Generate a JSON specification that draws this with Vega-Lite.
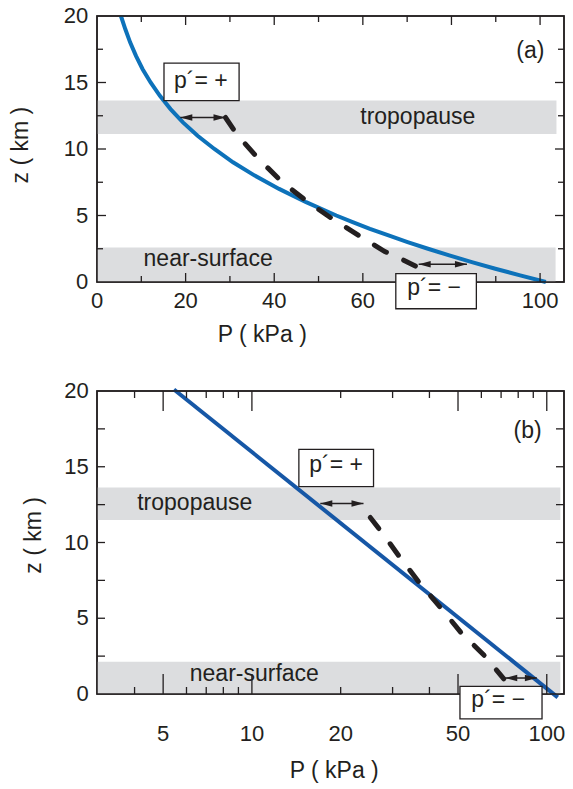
{
  "$schema": "https://vega.github.io/schema/vega-lite/v6.json",
  "background": "white",
  "padding": {"left": 9, "top": 4, "right": 0, "bottom": 0},
  "bounds": "flush",
  "spacing": 109,
  "datasets": {
    "bands_a": [
      {"x1": 0, "x2": 103.7, "y1": 11.13, "y2": 13.64},
      {"x1": 0, "x2": 103.5, "y1": 0, "y2": 2.59}
    ],
    "frame_a": [{"x1": 0, "x2": 105.4, "y1": 0, "y2": 20}],
    "tx_a": [
      {"v": 10, "m": "minor", "at": 0}, {"v": 20, "m": "major", "at": 0}, {"v": 30, "m": "minor", "at": 0},
      {"v": 40, "m": "major", "at": 0}, {"v": 50, "m": "minor", "at": 0}, {"v": 60, "m": "major", "at": 0},
      {"v": 70, "m": "minor", "at": 0}, {"v": 80, "m": "major", "at": 0}, {"v": 90, "m": "minor", "at": 0},
      {"v": 100, "m": "major", "at": 0},
      {"v": 10, "m": "minor", "at": 20}, {"v": 20, "m": "major", "at": 20}, {"v": 30, "m": "minor", "at": 20},
      {"v": 40, "m": "major", "at": 20}, {"v": 50, "m": "minor", "at": 20}, {"v": 60, "m": "major", "at": 20},
      {"v": 70, "m": "minor", "at": 20}, {"v": 80, "m": "major", "at": 20}, {"v": 90, "m": "minor", "at": 20},
      {"v": 100, "m": "major", "at": 20}
    ],
    "ty_a": [
      {"v": 2.5, "m": "minor", "at": 0}, {"v": 5, "m": "major", "at": 0}, {"v": 7.5, "m": "minor", "at": 0},
      {"v": 10, "m": "major", "at": 0}, {"v": 12.5, "m": "minor", "at": 0}, {"v": 15, "m": "major", "at": 0},
      {"v": 17.5, "m": "minor", "at": 0},
      {"v": 2.5, "m": "minor", "at": 105.4}, {"v": 5, "m": "major", "at": 105.4}, {"v": 7.5, "m": "minor", "at": 105.4},
      {"v": 10, "m": "major", "at": 105.4}, {"v": 12.5, "m": "minor", "at": 105.4}, {"v": 15, "m": "major", "at": 105.4},
      {"v": 17.5, "m": "minor", "at": 105.4}
    ],
    "xl_a": [
      {"v": 0, "at": 0, "t": "0"}, {"v": 20, "at": 0, "t": "20"}, {"v": 40, "at": 0, "t": "40"},
      {"v": 60, "at": 0, "t": "60"}, {"v": 100, "at": 0, "t": "100"}
    ],
    "yl_a": [
      {"v": 0, "at": 0, "t": "0"}, {"v": 5, "at": 0, "t": "5"}, {"v": 10, "at": 0, "t": "10"},
      {"v": 15, "at": 0, "t": "15"}, {"v": 20, "at": 0, "t": "20"}
    ],
    "xt_a": [{"P": 37.3, "z": -4.51, "t": "P ( kPa )"}],
    "yt_a": [{"P": -15.6, "z": 10.29, "t": "z ( km )"}],
    "curve_a": [
      {"P": 101.3, "z": 0}, {"P": 95.5, "z": 0.5}, {"P": 89.9, "z": 1}, {"P": 84.6, "z": 1.5},
      {"P": 79.5, "z": 2}, {"P": 74.7, "z": 2.5}, {"P": 70.1, "z": 3}, {"P": 65.8, "z": 3.5},
      {"P": 61.6, "z": 4}, {"P": 57.7, "z": 4.5}, {"P": 54.0, "z": 5}, {"P": 47.2, "z": 6},
      {"P": 41.1, "z": 7}, {"P": 35.6, "z": 8}, {"P": 30.7, "z": 9}, {"P": 26.5, "z": 10},
      {"P": 22.7, "z": 11}, {"P": 19.4, "z": 12}, {"P": 16.6, "z": 13}, {"P": 14.2, "z": 14},
      {"P": 12.1, "z": 15}, {"P": 10.3, "z": 16}, {"P": 8.8, "z": 17}, {"P": 7.5, "z": 18},
      {"P": 6.4, "z": 19}, {"P": 5.4, "z": 20}
    ],
    "dash_a": [
      {"P": 29.0, "z": 12.37}, {"P": 31.66, "z": 11.06}, {"P": 36.36, "z": 9.3}, {"P": 41.71, "z": 7.54},
      {"P": 47.49, "z": 6.03}, {"P": 53.26, "z": 4.72}, {"P": 59.44, "z": 3.42}, {"P": 64.96, "z": 2.29},
      {"P": 68.51, "z": 1.76}, {"P": 71.85, "z": 1.2}
    ],
    "arrows_a": [
      {"x1": 18.8, "x2": 29.0, "z": 12.37},
      {"x1": 72.6, "x2": 83.5, "z": 1.33}
    ],
    "heads_a": [
      {"P": 18.8, "z": 12.37, "d": "L"}, {"P": 29.0, "z": 12.37, "d": "R"},
      {"P": 72.6, "z": 1.33, "d": "L"}, {"P": 83.5, "z": 1.33, "d": "R"}
    ],
    "boxes_a": [
      {"x1": 15.12, "x2": 32.07, "y1": 13.64, "y2": 16.46},
      {"x1": 67.44, "x2": 85.62, "y1": -2.01, "y2": 0.63}
    ],
    "texts_a": [
      {"P": 72.4, "z": 11.88, "t": "tropopause"},
      {"P": 25.08, "z": 1.21, "t": "near-surface"},
      {"P": 97.8, "z": 16.83, "t": "(a)"},
      {"P": 23.43, "z": 14.57, "t": "p´= +"},
      {"P": 76.1, "z": -1.0, "t": "p´= −"}
    ],
    "bands_b": [
      {"x1": 2.983, "x2": 111.2, "y1": 11.49, "y2": 13.63},
      {"x1": 2.983, "x2": 111.2, "y1": 0, "y2": 2.13}
    ],
    "frame_b": [{"x1": 2.983, "x2": 114.4, "y1": 0, "y2": 20}],
    "tx_b": [
      {"v": 4, "m": "minor", "at": 0}, {"v": 5, "m": "major", "at": 0}, {"v": 6, "m": "minor", "at": 0},
      {"v": 7, "m": "minor", "at": 0}, {"v": 8, "m": "minor", "at": 0}, {"v": 9, "m": "minor", "at": 0},
      {"v": 10, "m": "major", "at": 0}, {"v": 20, "m": "minor", "at": 0}, {"v": 30, "m": "minor", "at": 0},
      {"v": 40, "m": "minor", "at": 0}, {"v": 50, "m": "major", "at": 0}, {"v": 60, "m": "minor", "at": 0},
      {"v": 70, "m": "minor", "at": 0}, {"v": 80, "m": "minor", "at": 0}, {"v": 90, "m": "minor", "at": 0},
      {"v": 100, "m": "major", "at": 0},
      {"v": 4, "m": "minor", "at": 20}, {"v": 5, "m": "major", "at": 20}, {"v": 6, "m": "minor", "at": 20},
      {"v": 7, "m": "minor", "at": 20}, {"v": 8, "m": "minor", "at": 20}, {"v": 9, "m": "minor", "at": 20},
      {"v": 10, "m": "major", "at": 20}, {"v": 20, "m": "minor", "at": 20}, {"v": 30, "m": "minor", "at": 20},
      {"v": 40, "m": "minor", "at": 20}, {"v": 50, "m": "major", "at": 20}, {"v": 60, "m": "minor", "at": 20},
      {"v": 70, "m": "minor", "at": 20}, {"v": 80, "m": "minor", "at": 20}, {"v": 90, "m": "minor", "at": 20},
      {"v": 100, "m": "major", "at": 20}
    ],
    "ty_b": [
      {"v": 2.5, "at": 2.983}, {"v": 5, "at": 2.983}, {"v": 7.5, "at": 2.983}, {"v": 10, "at": 2.983},
      {"v": 12.5, "at": 2.983}, {"v": 15, "at": 2.983}, {"v": 17.5, "at": 2.983},
      {"v": 2.5, "at": 114.4}, {"v": 5, "at": 114.4}, {"v": 7.5, "at": 114.4}, {"v": 10, "at": 114.4},
      {"v": 12.5, "at": 114.4}, {"v": 15, "at": 114.4}, {"v": 17.5, "at": 114.4}
    ],
    "xl_b": [
      {"v": 5, "at": 0, "t": "5"}, {"v": 10, "at": 0, "t": "10"}, {"v": 20, "at": 0, "t": "20"},
      {"v": 50, "at": 0, "t": "50"}, {"v": 100, "at": 0, "t": "100"}
    ],
    "yl_b": [
      {"v": 0, "at": 2.983, "t": "0"}, {"v": 5, "at": 2.983, "t": "5"}, {"v": 10, "at": 2.983, "t": "10"},
      {"v": 15, "at": 2.983, "t": "15"}, {"v": 20, "at": 2.983, "t": "20"}
    ],
    "xt_b": [{"P": 19.02, "z": -5.55, "t": "P ( kPa )"}],
    "yt_b": [{"P": 1.93, "z": 10.47, "t": "z ( km )"}],
    "line_b": [
      {"P": 5.44, "z": 20.1}, {"P": 108.96, "z": -0.22}
    ],
    "dash_b": [
      {"P": 25.2, "z": 11.65}, {"P": 27.6, "z": 10.66}, {"P": 31.8, "z": 9.01}, {"P": 37.3, "z": 7.25},
      {"P": 43.6, "z": 5.71}, {"P": 51.1, "z": 4.07}, {"P": 61.5, "z": 2.53}, {"P": 71.5, "z": 1.0}
    ],
    "arrows_b": [
      {"x1": 17.06, "x2": 23.9, "z": 12.57},
      {"x1": 72.3, "x2": 92.55, "z": 1.055}
    ],
    "heads_b": [
      {"P": 17.06, "z": 12.57, "d": "L"}, {"P": 23.9, "z": 12.57, "d": "R"},
      {"P": 72.3, "z": 1.055, "d": "L"}, {"P": 92.55, "z": 1.055, "d": "R"}
    ],
    "boxes_b": [
      {"x1": 14.43, "x2": 25.85, "y1": 13.69, "y2": 16.15},
      {"x1": 50.77, "x2": 96.36, "y1": -1.648, "y2": 0.505}
    ],
    "texts_b": [
      {"P": 6.40, "z": 12.15, "t": "tropopause"},
      {"P": 10.19, "z": 0.835, "t": "near-surface"},
      {"P": 86.1, "z": 16.92, "t": "(b)"},
      {"P": 19.31, "z": 14.66, "t": "p´= +"},
      {"P": 68.45, "z": -0.88, "t": "p´= −"}
    ]
  },
  "vconcat": [
    {
      "width": 467,
      "height": 266,
      "layer": [
        {
          "data": {"name": "bands_a"},
          "mark": {"type": "rect", "fill": "#dcdddf"},
          "encoding": {
            "x": {"field": "x1", "type": "quantitative", "scale": {"domain": [0, 105.4], "nice": false, "zero": false}, "axis": null},
            "x2": {"field": "x2"},
            "y": {"field": "y1", "type": "quantitative", "scale": {"domain": [0, 20], "nice": false, "zero": false}, "axis": null},
            "y2": {"field": "y2"}
          }
        },
        {
          "data": {"name": "xl_a"},
          "mark": {"type": "text", "font": "Liberation Sans", "fontSize": 22, "color": "#231f20", "align": "center", "baseline": "top", "dy": 9.4},
          "encoding": {
            "x": {"field": "v", "type": "quantitative", "scale": {"domain": [0, 105.4], "nice": false, "zero": false}, "axis": null},
            "y": {"field": "at", "type": "quantitative", "scale": {"domain": [0, 20], "nice": false, "zero": false}, "axis": null},
            "text": {"field": "t"}
          }
        },
        {
          "data": {"name": "yl_a"},
          "mark": {"type": "text", "font": "Liberation Sans", "fontSize": 22, "color": "#231f20", "align": "right", "baseline": "middle", "dx": -8.8},
          "encoding": {
            "y": {"field": "v", "type": "quantitative", "scale": {"domain": [0, 20], "nice": false, "zero": false}, "axis": null},
            "x": {"field": "at", "type": "quantitative", "scale": {"domain": [0, 105.4], "nice": false, "zero": false}, "axis": null},
            "text": {"field": "t"}
          }
        },
        {
          "data": {"name": "xt_a"},
          "mark": {"type": "text", "font": "Liberation Sans", "fontSize": 23, "color": "#231f20", "align": "center", "baseline": "alphabetic"},
          "encoding": {
            "x": {"field": "P", "type": "quantitative", "scale": {"domain": [0, 105.4], "nice": false, "zero": false}, "axis": null},
            "y": {"field": "z", "type": "quantitative", "scale": {"domain": [0, 20], "nice": false, "zero": false}, "axis": null},
            "text": {"field": "t"}
          }
        },
        {
          "data": {"name": "yt_a"},
          "mark": {"type": "text", "font": "Liberation Sans", "fontSize": 23, "color": "#231f20", "align": "center", "baseline": "alphabetic", "angle": 270},
          "encoding": {
            "x": {"field": "P", "type": "quantitative", "scale": {"domain": [0, 105.4], "nice": false, "zero": false}, "axis": null},
            "y": {"field": "z", "type": "quantitative", "scale": {"domain": [0, 20], "nice": false, "zero": false}, "axis": null},
            "text": {"field": "t"}
          }
        },
        {
          "data": {"name": "curve_a"},
          "mark": {"type": "line", "stroke": "#0d72ba", "strokeWidth": 4},
          "encoding": {
            "x": {"field": "P", "type": "quantitative", "scale": {"domain": [0, 105.4], "nice": false, "zero": false}, "axis": null},
            "y": {"field": "z", "type": "quantitative", "scale": {"domain": [0, 20], "nice": false, "zero": false}, "axis": null},
            "order": {"field": "z", "type": "quantitative"}
          }
        },
        {
          "data": {"name": "dash_a"},
          "mark": {"type": "line", "stroke": "#231f20", "strokeWidth": 5, "strokeDash": [14, 19], "strokeCap": "round"},
          "encoding": {
            "x": {"field": "P", "type": "quantitative", "scale": {"domain": [0, 105.4], "nice": false, "zero": false}, "axis": null},
            "y": {"field": "z", "type": "quantitative", "scale": {"domain": [0, 20], "nice": false, "zero": false}, "axis": null},
            "order": {"field": "z", "type": "quantitative", "sort": "descending"}
          }
        },
        {
          "data": {"name": "arrows_a"},
          "mark": {"type": "rule", "stroke": "#231f20", "strokeWidth": 1.5},
          "encoding": {
            "x": {"field": "x1", "type": "quantitative", "scale": {"domain": [0, 105.4], "nice": false, "zero": false}, "axis": null},
            "x2": {"field": "x2"},
            "y": {"field": "z", "type": "quantitative", "scale": {"domain": [0, 20], "nice": false, "zero": false}, "axis": null}
          }
        },
        {
          "data": {"name": "heads_a"},
          "mark": {"type": "point", "filled": true, "fill": "#231f20", "opacity": 1, "size": 144, "strokeWidth": 0},
          "encoding": {
            "x": {"field": "P", "type": "quantitative", "scale": {"domain": [0, 105.4], "nice": false, "zero": false}, "axis": null},
            "y": {"field": "z", "type": "quantitative", "scale": {"domain": [0, 20], "nice": false, "zero": false}, "axis": null},
            "shape": {"field": "d", "type": "nominal", "legend": null,
              "scale": {"domain": ["L", "R"], "range": ["M 0 0 L 2 -0.55 L 2 0.55 Z", "M 0 0 L -2 -0.55 L -2 0.55 Z"]}}
          }
        },
        {
          "data": {"name": "frame_a"},
          "mark": {"type": "rect", "fill": "transparent", "stroke": "#231f20", "strokeWidth": 1.5},
          "encoding": {
            "x": {"field": "x1", "type": "quantitative", "scale": {"domain": [0, 105.4], "nice": false, "zero": false}, "axis": null},
            "x2": {"field": "x2"},
            "y": {"field": "y1", "type": "quantitative", "scale": {"domain": [0, 20], "nice": false, "zero": false}, "axis": null},
            "y2": {"field": "y2"}
          }
        },
        {
          "data": {"name": "tx_a"},
          "mark": {"type": "tick", "orient": "vertical", "thickness": 1.3, "color": "#231f20", "opacity": 1, "clip": true},
          "encoding": {
            "x": {"field": "v", "type": "quantitative", "scale": {"domain": [0, 105.4], "nice": false, "zero": false}, "axis": null},
            "y": {"field": "at", "type": "quantitative", "scale": {"domain": [0, 20], "nice": false, "zero": false}, "axis": null},
            "size": {"condition": {"test": "datum.m === 'major'", "value": 18}, "value": 12}
          }
        },
        {
          "data": {"name": "ty_a"},
          "mark": {"type": "tick", "orient": "horizontal", "thickness": 1.3, "color": "#231f20", "opacity": 1, "clip": true},
          "encoding": {
            "y": {"field": "v", "type": "quantitative", "scale": {"domain": [0, 20], "nice": false, "zero": false}, "axis": null},
            "x": {"field": "at", "type": "quantitative", "scale": {"domain": [0, 105.4], "nice": false, "zero": false}, "axis": null},
            "size": {"condition": {"test": "datum.m === 'major'", "value": 18}, "value": 12}
          }
        },
        {
          "data": {"name": "boxes_a"},
          "mark": {"type": "rect", "fill": "white", "stroke": "#231f20", "strokeWidth": 1.3},
          "encoding": {
            "x": {"field": "x1", "type": "quantitative", "scale": {"domain": [0, 105.4], "nice": false, "zero": false}, "axis": null},
            "x2": {"field": "x2"},
            "y": {"field": "y1", "type": "quantitative", "scale": {"domain": [0, 20], "nice": false, "zero": false}, "axis": null},
            "y2": {"field": "y2"}
          }
        },
        {
          "data": {"name": "texts_a"},
          "mark": {"type": "text", "font": "Liberation Sans", "fontSize": 23, "color": "#231f20", "align": "center", "baseline": "alphabetic"},
          "encoding": {
            "x": {"field": "P", "type": "quantitative", "scale": {"domain": [0, 105.4], "nice": false, "zero": false}, "axis": null},
            "y": {"field": "z", "type": "quantitative", "scale": {"domain": [0, 20], "nice": false, "zero": false}, "axis": null},
            "text": {"field": "t"}
          }
        }
      ]
    },
    {
      "width": 467,
      "height": 303,
      "layer": [
        {
          "data": {"name": "bands_b"},
          "mark": {"type": "rect", "fill": "#dcdddf"},
          "encoding": {
            "x": {"field": "x1", "type": "quantitative", "scale": {"type": "log", "domain": [2.983, 114.4], "nice": false}, "axis": null},
            "x2": {"field": "x2"},
            "y": {"field": "y1", "type": "quantitative", "scale": {"domain": [0, 20], "nice": false, "zero": false}, "axis": null},
            "y2": {"field": "y2"}
          }
        },
        {
          "data": {"name": "xl_b"},
          "mark": {"type": "text", "font": "Liberation Sans", "fontSize": 22, "color": "#231f20", "align": "center", "baseline": "top", "dy": 30},
          "encoding": {
            "x": {"field": "v", "type": "quantitative", "scale": {"type": "log", "domain": [2.983, 114.4], "nice": false}, "axis": null},
            "y": {"field": "at", "type": "quantitative", "scale": {"domain": [0, 20], "nice": false, "zero": false}, "axis": null},
            "text": {"field": "t"}
          }
        },
        {
          "data": {"name": "yl_b"},
          "mark": {"type": "text", "font": "Liberation Sans", "fontSize": 22, "color": "#231f20", "align": "right", "baseline": "middle", "dx": -8.2},
          "encoding": {
            "y": {"field": "v", "type": "quantitative", "scale": {"domain": [0, 20], "nice": false, "zero": false}, "axis": null},
            "x": {"field": "at", "type": "quantitative", "scale": {"type": "log", "domain": [2.983, 114.4], "nice": false}, "axis": null},
            "text": {"field": "t"}
          }
        },
        {
          "data": {"name": "xt_b"},
          "mark": {"type": "text", "font": "Liberation Sans", "fontSize": 23, "color": "#231f20", "align": "center", "baseline": "alphabetic"},
          "encoding": {
            "x": {"field": "P", "type": "quantitative", "scale": {"type": "log", "domain": [2.983, 114.4], "nice": false}, "axis": null},
            "y": {"field": "z", "type": "quantitative", "scale": {"domain": [0, 20], "nice": false, "zero": false}, "axis": null},
            "text": {"field": "t"}
          }
        },
        {
          "data": {"name": "yt_b"},
          "mark": {"type": "text", "font": "Liberation Sans", "fontSize": 23, "color": "#231f20", "align": "center", "baseline": "alphabetic", "angle": 270},
          "encoding": {
            "x": {"field": "P", "type": "quantitative", "scale": {"type": "log", "domain": [2.983, 114.4], "nice": false}, "axis": null},
            "y": {"field": "z", "type": "quantitative", "scale": {"domain": [0, 20], "nice": false, "zero": false}, "axis": null},
            "text": {"field": "t"}
          }
        },
        {
          "data": {"name": "line_b"},
          "mark": {"type": "line", "stroke": "#1657a6", "strokeWidth": 4},
          "encoding": {
            "x": {"field": "P", "type": "quantitative", "scale": {"type": "log", "domain": [2.983, 114.4], "nice": false}, "axis": null},
            "y": {"field": "z", "type": "quantitative", "scale": {"domain": [0, 20], "nice": false, "zero": false}, "axis": null},
            "order": {"field": "z", "type": "quantitative"}
          }
        },
        {
          "data": {"name": "dash_b"},
          "mark": {"type": "line", "stroke": "#231f20", "strokeWidth": 5, "strokeDash": [14, 19], "strokeCap": "round"},
          "encoding": {
            "x": {"field": "P", "type": "quantitative", "scale": {"type": "log", "domain": [2.983, 114.4], "nice": false}, "axis": null},
            "y": {"field": "z", "type": "quantitative", "scale": {"domain": [0, 20], "nice": false, "zero": false}, "axis": null},
            "order": {"field": "z", "type": "quantitative", "sort": "descending"}
          }
        },
        {
          "data": {"name": "arrows_b"},
          "mark": {"type": "rule", "stroke": "#231f20", "strokeWidth": 1.5},
          "encoding": {
            "x": {"field": "x1", "type": "quantitative", "scale": {"type": "log", "domain": [2.983, 114.4], "nice": false}, "axis": null},
            "x2": {"field": "x2"},
            "y": {"field": "z", "type": "quantitative", "scale": {"domain": [0, 20], "nice": false, "zero": false}, "axis": null}
          }
        },
        {
          "data": {"name": "heads_b"},
          "mark": {"type": "point", "filled": true, "fill": "#231f20", "opacity": 1, "size": 144, "strokeWidth": 0},
          "encoding": {
            "x": {"field": "P", "type": "quantitative", "scale": {"type": "log", "domain": [2.983, 114.4], "nice": false}, "axis": null},
            "y": {"field": "z", "type": "quantitative", "scale": {"domain": [0, 20], "nice": false, "zero": false}, "axis": null},
            "shape": {"field": "d", "type": "nominal", "legend": null,
              "scale": {"domain": ["L", "R"], "range": ["M 0 0 L 2 -0.55 L 2 0.55 Z", "M 0 0 L -2 -0.55 L -2 0.55 Z"]}}
          }
        },
        {
          "data": {"name": "frame_b"},
          "mark": {"type": "rect", "fill": "transparent", "stroke": "#231f20", "strokeWidth": 1.5},
          "encoding": {
            "x": {"field": "x1", "type": "quantitative", "scale": {"type": "log", "domain": [2.983, 114.4], "nice": false}, "axis": null},
            "x2": {"field": "x2"},
            "y": {"field": "y1", "type": "quantitative", "scale": {"domain": [0, 20], "nice": false, "zero": false}, "axis": null},
            "y2": {"field": "y2"}
          }
        },
        {
          "data": {"name": "tx_b"},
          "mark": {"type": "tick", "orient": "vertical", "thickness": 1.3, "color": "#231f20", "opacity": 1, "clip": true},
          "encoding": {
            "x": {"field": "v", "type": "quantitative", "scale": {"type": "log", "domain": [2.983, 114.4], "nice": false}, "axis": null},
            "y": {"field": "at", "type": "quantitative", "scale": {"domain": [0, 20], "nice": false, "zero": false}, "axis": null},
            "size": {"condition": {"test": "datum.m === 'major'", "value": 40}, "value": 14}
          }
        },
        {
          "data": {"name": "ty_b"},
          "mark": {"type": "tick", "orient": "horizontal", "thickness": 1.3, "color": "#231f20", "opacity": 1, "size": 16, "clip": true},
          "encoding": {
            "y": {"field": "v", "type": "quantitative", "scale": {"domain": [0, 20], "nice": false, "zero": false}, "axis": null},
            "x": {"field": "at", "type": "quantitative", "scale": {"type": "log", "domain": [2.983, 114.4], "nice": false}, "axis": null}
          }
        },
        {
          "data": {"name": "boxes_b"},
          "mark": {"type": "rect", "fill": "white", "stroke": "#231f20", "strokeWidth": 1.3},
          "encoding": {
            "x": {"field": "x1", "type": "quantitative", "scale": {"type": "log", "domain": [2.983, 114.4], "nice": false}, "axis": null},
            "x2": {"field": "x2"},
            "y": {"field": "y1", "type": "quantitative", "scale": {"domain": [0, 20], "nice": false, "zero": false}, "axis": null},
            "y2": {"field": "y2"}
          }
        },
        {
          "data": {"name": "texts_b"},
          "mark": {"type": "text", "font": "Liberation Sans", "fontSize": 23, "color": "#231f20", "align": "center", "baseline": "alphabetic"},
          "encoding": {
            "x": {"field": "P", "type": "quantitative", "scale": {"type": "log", "domain": [2.983, 114.4], "nice": false}, "axis": null},
            "y": {"field": "z", "type": "quantitative", "scale": {"domain": [0, 20], "nice": false, "zero": false}, "axis": null},
            "text": {"field": "t"}
          }
        }
      ]
    }
  ],
  "config": {
    "view": {"stroke": "#231f20", "strokeWidth": 1.5}
  }
}
